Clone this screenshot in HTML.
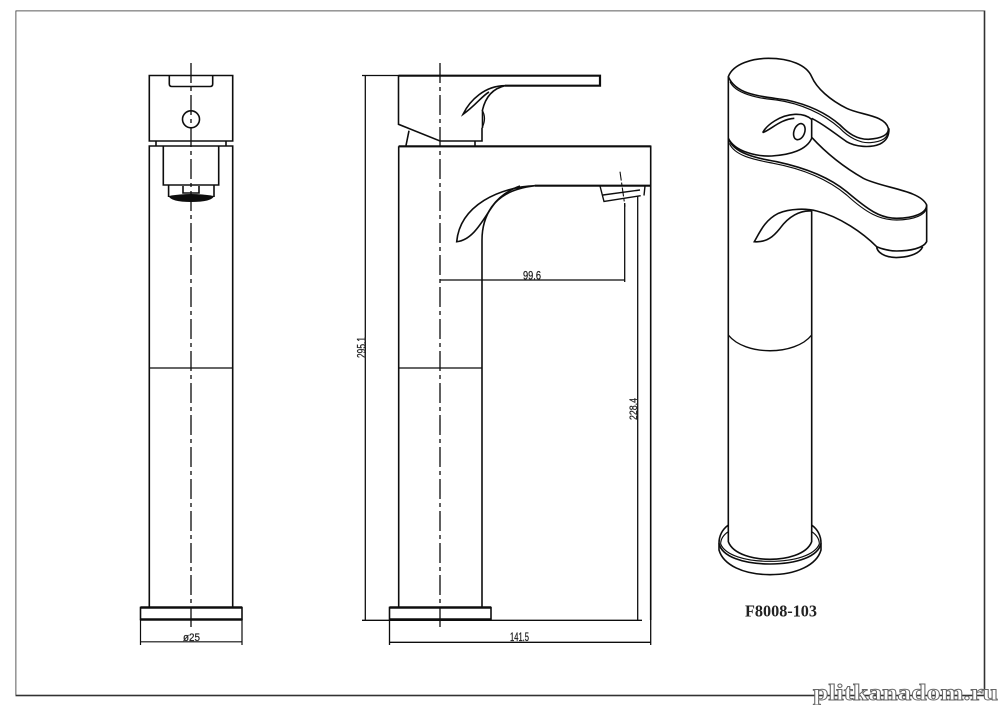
<!DOCTYPE html>
<html><head><meta charset="utf-8"><style>
html,body{margin:0;padding:0;background:#fff}
svg{display:block}
text{font-family:"Liberation Sans",sans-serif;fill:#222;stroke:#222;stroke-width:.25}
</style></head><body>
<svg width="1000" height="707" viewBox="0 0 1000 707" xmlns="http://www.w3.org/2000/svg">
<defs><filter id="b" x="0" y="0" width="100%" height="100%"><feGaussianBlur stdDeviation="0.35"/></filter></defs>
<rect width="1000" height="707" fill="#fff"/>
<g filter="url(#b)">
<rect x="15.5" y="10.5" width="969" height="685" fill="none" stroke="#333" stroke-width="1.6"/>

<!-- Left view -->
<g fill="none" stroke="#111" stroke-width="1.6">
<path d="M149.3,141V75.5H232.7V141Z"/>
<path d="M169.3,75.5V84Q169.3,86.5 172,86.5H210Q212.7,86.5 212.7,84V75.5"/>
<circle cx="191" cy="119.3" r="8.5"/>
<path d="M156,141V146M226,141V146"/>
<path d="M149.3,607V146H232.7V607"/>
<path d="M163.3,146V185H218.7V146"/>
<path d="M168.6,185V197M214,185V197M183,186V193H199V186"/>
<path d="M149.3,368H232.7" stroke-width="1.2"/>
<rect x="140.5" y="607.5" width="101.5" height="12"/>
<path d="M140.5,607.5H242M140.5,619.5H242" stroke-width="2.6"/>
<path d="M140.5,619V645M242,619V645M140.5,641.8H242" stroke-width="1.2"/>
<path d="M191,63V628" stroke-width="1.3" stroke-dasharray="20 4 4 4"/>
</g>
<path d="M168.6,196Q191,192 214,196Q212,202 191,202Q171,202 168.6,196Z" fill="#111"/>
<text x="191.5" y="641" font-size="11" text-anchor="middle" textLength="17" lengthAdjust="spacingAndGlyphs">ø25</text>

<!-- Middle view -->
<g fill="none" stroke="#111" stroke-width="1.6">
<path d="M362,75.5H398.5" stroke-width="1.2"/>
<path d="M398.5,75.7H600V85.7H505" stroke-width="2.2"/>
<path d="M398.5,75.7V124.3L440,141H482V128"/>
<path d="M505,85.7C485,85.7 470,100 463,114.3C475,106 482,96 489,92"/>
<path d="M505,85.7C495,88 486,95 482.5,110V128"/>
<path d="M482,110Q487,118 482,128" stroke-width="1.2"/>
<path d="M409,130.7L406,145.5M475,141V146"/>
<path d="M398.7,146.3H650.7V620"/>
<path d="M398.7,146.3H650.7" stroke-width="2.2"/>
<path d="M398.7,146.3V607"/>
<path d="M482,607V240C482,215 495,195 520,186"/>
<path d="M535,185.7H650.7" stroke-width="2.2"/>
<path d="M535,185.7C500,187 460,205 456.7,241.7C475,240 485,215 495,203C503,194 515,188 535,185.7"/>
<path d="M600,186L604,201.5L640.7,195.7M645,186L644,195.5M603,195L640,190" stroke-width="1.4"/>
<path d="M620,171.7L625,206.7" stroke-width="1.1" stroke-dasharray="9 2 3 2"/>
<path d="M398.7,368H482" stroke-width="1.2"/>
<rect x="389.5" y="607.5" width="101.5" height="12"/>
<path d="M389.5,607.5H491M389.5,619.5H491" stroke-width="2.6"/>
<path d="M440,63V628" stroke-width="1.3" stroke-dasharray="20 4 4 4"/>
<g stroke-width="1.3">
<path d="M365.3,76V620"/>
<path d="M362,620.3H642"/>
<path d="M440,280H625"/>
<path d="M624.7,203V282"/>
<path d="M637.7,196V620"/>
<path d="M389.5,620V645"/>
<path d="M650.7,620V645"/>
<path d="M389.5,642.3H650.7"/>
</g>
</g>
<text x="532" y="279.5" font-size="11.5" text-anchor="middle" textLength="18" lengthAdjust="spacingAndGlyphs">99.6</text>
<text x="519.5" y="641" font-size="11.5" text-anchor="middle" textLength="19" lengthAdjust="spacingAndGlyphs">141.5</text>
<text transform="translate(365.5,347.5) rotate(-90)" font-size="11.5" text-anchor="middle" textLength="21" lengthAdjust="spacingAndGlyphs">295.1</text>
<text transform="translate(637,409) rotate(-90)" font-size="11" text-anchor="middle" textLength="22" lengthAdjust="spacingAndGlyphs">228.4</text>

<!-- Right view: top part -->
<g transform="translate(700,50) scale(.33333)" fill="none" stroke="#111" stroke-width="4.8">
<path d="M85,80C100,40 160,25 205,25C270,25 320,45 335,80C350,115 390,150 440,175C480,195 555,195 565,235C567,255 545,265 505,268C470,268 445,250 420,225C380,190 330,165 260,150C200,140 110,140 85,80Z"/>
<path d="M90,95C105,130 170,145 230,150C300,160 370,190 420,235C445,262 480,280 510,278C545,275 565,265 565,240" stroke-width="3.5"/>
<path d="M335,205C375,225 410,255 440,275C465,290 510,295 540,282C560,272 567,258 567,235"/>
<path d="M85,80V690"/>
<path d="M85,265C105,305 170,320 215,318C270,315 320,300 335,265V205"/>
<ellipse cx="298" cy="245" rx="16" ry="25" transform="rotate(20 298 245)"/>
<path d="M188,248C200,225 240,195 285,193C305,192 322,197 335,208"/>
<path d="M188,248C215,238 240,208 283,205"/>
<path d="M335,262C370,300 420,345 490,385C550,415 660,420 680,465C680,490 640,505 590,505C540,505 505,480 440,425C380,375 300,350 230,335C170,325 100,310 85,265"/>
<path d="M88,280C105,320 170,330 220,340C300,355 380,385 440,435C500,490 540,510 590,510C640,510 680,495 680,470" stroke-width="3.5"/>
<path d="M680,465V575C670,595 630,603 590,603C570,603 545,597 530,590C490,550 420,500 350,483C320,475 270,475 235,490C195,510 180,545 163,575C200,578 220,560 240,535C265,500 300,480 335,483"/>
<path d="M335,483V690"/>
<path d="M530,592C535,615 570,625 600,622C630,620 660,610 668,590"/>
</g>

<!-- Right view: body -->
<g fill="none" stroke="#111" stroke-width="1.6">
<path d="M728.3,280V530"/>
<path d="M811.7,280V530"/>
<path d="M728.3,335C745,356 795,356 811.7,335" stroke-width="1.4"/>
</g>

<!-- Right view: base -->
<g transform="translate(700,500) scale(.33333)" fill="none" stroke="#111" stroke-width="4.8">
<path d="M85,90V125C100,165 165,178 210,178C255,178 320,165 335,125V90"/>
<path d="M85,75C65,90 57,110 57,130C65,170 130,192 210,192C290,192 355,170 363,130C363,110 355,90 335,75"/>
<path d="M85,95C70,105 62,118 62,132C75,165 135,184 210,184C285,184 345,165 358,132C358,118 350,105 335,95" stroke-width="3.5"/>
<path d="M57,130V150C70,195 130,224 210,224C290,224 350,195 363,150V130"/>
</g>

<text x="745" y="616.5" font-size="17" font-weight="bold" style="font-family:'Liberation Serif',serif;stroke-width:0" textLength="72" lengthAdjust="spacingAndGlyphs">F8008-103</text>

<text x="813" y="700" font-size="23" font-weight="bold" style="font-family:'Liberation Serif',serif;fill:#fff;stroke:#666;stroke-width:.9" textLength="185" lengthAdjust="spacingAndGlyphs">plitkanadom.ru</text>
</g>
</svg>
</body></html>
